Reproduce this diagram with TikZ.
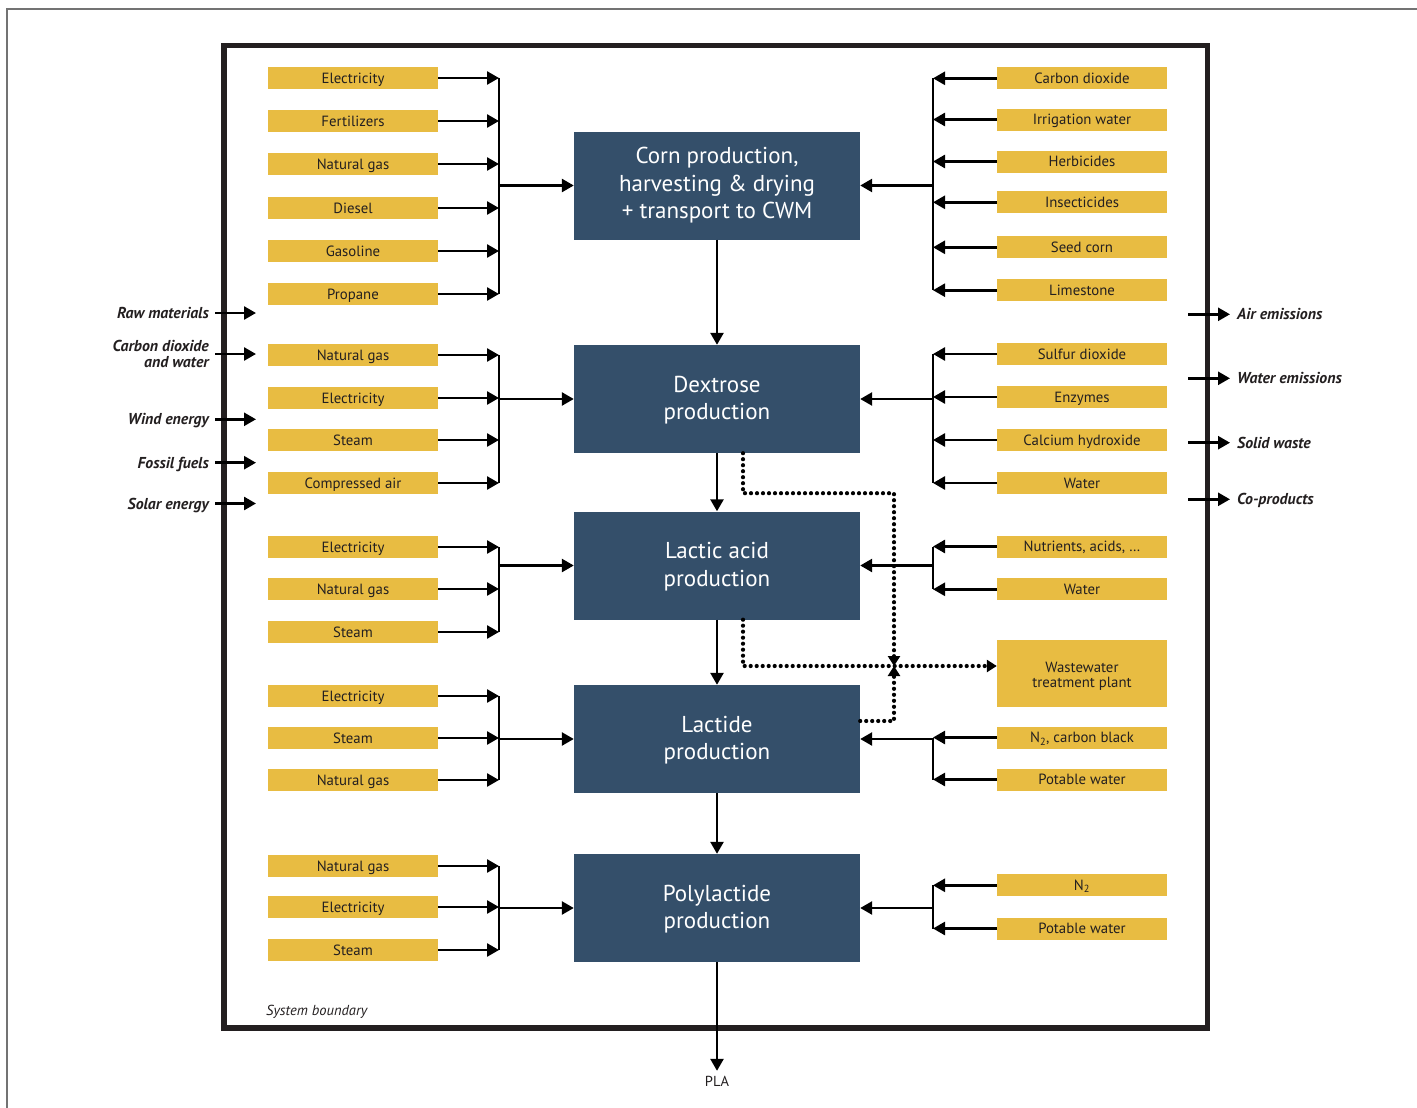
\documentclass[tikz,border=0pt]{standalone}
\usepackage{fontspec}
\setmainfont{PT Sans}
\usetikzlibrary{arrows.meta}
\definecolor{ybox}{RGB}{232,188,66}
\definecolor{pbox}{RGB}{52,79,106}
\definecolor{ink}{RGB}{35,31,32}
\tikzset{
  item/.style={fill=ybox, minimum width=170pt, minimum height=22pt, inner sep=0pt,
    text=ink, text height=10.3pt, text depth=0pt, font=\fontsize{14.8}{15}\selectfont},
  proc/.style={fill=pbox, minimum width=286pt, minimum height=108pt, inner sep=0pt,
    text=white, align=center, font=\fontsize{23}{27.5}\selectfont},
  flow/.style={line width=2.6pt, draw=black, -{Triangle[length=12pt,width=13pt]}},
  brk/.style={line width=1.8pt, draw=black},
  dots/.style={line width=4.2pt, draw=black, dash pattern=on 0pt off 6pt, line cap=round,
    -{Triangle[length=10pt,width=12pt]}},
  ext/.style={font=\fontsize{15.8}{15.5}\selectfont\bfseries\itshape, text=ink, inner sep=0pt},
  ext1/.style={ext, text height=11pt, text depth=0pt},
  frame/.style={line width=1.3pt, draw=black!55},
  boundary/.style={line width=5.5pt, draw=ink}
}
\begin{document}
\begin{tikzpicture}[x=1pt,y=-1pt]
\useasboundingbox (0,0) rectangle (1417,1108);
\draw[frame] (7,1108) -- (7,9) -- (1417,9);
\draw[boundary] (224,45.5) rectangle (1207.5,1028);
\coordinate (bl) at (499,0);
\coordinate (br) at (933,0);
\coordinate (xin) at (256,0);
\coordinate (xout) at (1188,0);
\coordinate (jn) at (894,666);

% process boxes
\node[proc] (corn) at (717,185.5) {Corn production,\\harvesting \& drying\\+ transport to CWM};
\node[proc] (dex) at (717,399) {\rule{0pt}{19pt}Dextrose\\production};
\node[proc] (lac) at (717,565.5) {\rule{0pt}{19pt}Lactic acid\\production};
\node[proc] (lt) at (717,739) {\rule{0pt}{19pt}Lactide\\production};
\node[proc] (pl) at (717,908) {\rule{0pt}{19pt}Polylactide\\production};

% left inputs
\foreach \i/\y/\t in {1/78/Electricity, 2/121/Fertilizers, 3/164/Natural gas, 4/208/Diesel, 5/251/Gasoline, 6/294/Propane}
  {\node[item] (Lc\i) at (353,\y) {\t}; \draw[flow] (Lc\i.east) -- (Lc\i.east -| bl);}
\foreach \i/\y/\t in {1/355/Natural gas, 2/398/Electricity, 3/440/Steam, 4/483/Compressed air}
  {\node[item] (Ld\i) at (353,\y) {\t}; \draw[flow] (Ld\i.east) -- (Ld\i.east -| bl);}
\foreach \i/\y/\t in {1/547/Electricity, 2/589/Natural gas, 3/632/Steam}
  {\node[item] (La\i) at (353,\y) {\t}; \draw[flow] (La\i.east) -- (La\i.east -| bl);}
\foreach \i/\y/\t in {1/696/Electricity, 2/738/Steam, 3/780/Natural gas}
  {\node[item] (Lt\i) at (353,\y) {\t}; \draw[flow] (Lt\i.east) -- (Lt\i.east -| bl);}
\foreach \i/\y/\t in {1/866/Natural gas, 2/907/Electricity, 3/950/Steam}
  {\node[item] (Lp\i) at (353,\y) {\t}; \draw[flow] (Lp\i.east) -- (Lp\i.east -| bl);}

\draw[brk] (Lc1.east -| bl) -- (Lc6.east -| bl);
\draw[brk] (Ld1.east -| bl) -- (Ld4.east -| bl);
\draw[brk] (La1.east -| bl) -- (La3.east -| bl);
\draw[brk] (Lt1.east -| bl) -- (Lt3.east -| bl);
\draw[brk] (Lp1.east -| bl) -- (Lp3.east -| bl);
\draw[flow] (corn.west -| bl) -- (corn.west);
\draw[flow] (dex.west -| bl) -- (dex.west);
\draw[flow] (lac.west -| bl) -- (lac.west);
\draw[flow] (lt.west -| bl) -- (lt.west);
\draw[flow] (pl.west -| bl) -- (pl.west);

% right inputs
\foreach \i/\y/\t in {1/78.3/Carbon dioxide, 2/119.5/Irrigation water, 3/161.5/Herbicides, 4/202.3/Insecticides, 5/247.3/Seed corn, 6/290.2/Limestone}
  {\node[item] (Rc\i) at (1082,\y) {\t}; \draw[flow] (Rc\i.west) -- (Rc\i.west -| br);}
\foreach \i/\y/\t in {1/354/Sulfur dioxide, 2/397/Enzymes, 3/440/Calcium hydroxide, 4/483/Water}
  {\node[item] (Rd\i) at (1082,\y) {\t}; \draw[flow] (Rd\i.west) -- (Rd\i.west -| br);}
\foreach \i/\y/\t in {1/546.5/{Nutrients, acids, …}, 2/589.3/Water}
  {\node[item] (Ra\i) at (1082,\y) {\t}; \draw[flow] (Ra\i.west) -- (Ra\i.west -| br);}
\foreach \i/\y/\t in {1/737.5/{N\textsubscript{2}, carbon black}, 2/779.5/Potable water}
  {\node[item] (Rt\i) at (1082,\y) {\t}; \draw[flow] (Rt\i.west) -- (Rt\i.west -| br);}
\foreach \i/\y/\t in {1/885.3/N\textsubscript{2}, 2/928.5/Potable water}
  {\node[item] (Rp\i) at (1082,\y) {\t}; \draw[flow] (Rp\i.west) -- (Rp\i.west -| br);}

\draw[brk] (Rc1.west -| br) -- (Rc6.west -| br);
\draw[brk] (Rd1.west -| br) -- (Rd4.west -| br);
\draw[brk] (Ra1.west -| br) -- (Ra2.west -| br);
\draw[brk] (Rt1.west -| br) -- (Rt2.west -| br);
\draw[brk] (Rp1.west -| br) -- (Rp2.west -| br);
\draw[flow] (corn.east -| br) -- (corn.east);
\draw[flow] (dex.east -| br) -- (dex.east);
\draw[flow] (lac.east -| br) -- (lac.east);
\draw[flow] (lt.east -| br) -- (lt.east);
\draw[flow] (pl.east -| br) -- (pl.east);

% wastewater
\node[fill=ybox, minimum width=170pt, minimum height=67pt, inner sep=0pt, text=ink, align=center, font=\fontsize{14.8}{15}\selectfont] (ww) at (1082,673.3) {\rule{0pt}{16.5pt}Wastewater\\treatment plant};

% main chain
\node[font=\fontsize{14.5}{16}\selectfont, text=ink, inner sep=0pt, text height=10pt, text depth=0pt] (pla) at (717,1081) {PLA};
\draw[flow] (corn.south) -- (dex.north);
\draw[flow] (dex.south) -- (lac.north);
\draw[flow] (lac.south) -- (lt.north);
\draw[flow] (lt.south) -- (pl.north);
\draw[flow, shorten >=5pt] (pl.south) -- (pla.north);

% dotted wastewater flows
\draw[dots] ([xshift=26pt]dex.south) -- ++(0,40) -| (jn);
\draw[dots] ([xshift=26pt]lac.south) |- (jn -| ww.west);
\draw[dots] ([yshift=18pt]lt.east) -| (jn);

% external labels
\node[ext1, anchor=east] (e1) at (209,313) {Raw materials};
\node[ext, anchor=east, align=right] (e2) at (209,354) {Carbon dioxide\\and water};
\node[ext1, anchor=east] (e3) at (209,419.3) {Wind energy};
\node[ext1, anchor=east] (e4) at (209,462.7) {Fossil fuels};
\node[ext1, anchor=east] (e5) at (209,503.5) {Solar energy};
\foreach \e in {e1,e2,e3,e4,e5} \draw[flow, shorten <=6pt] (\e.east) -- (\e.east -| xin);

\node[ext1, anchor=west] (o1) at (1237,314.3) {Air emissions};
\node[ext1, anchor=west] (o2) at (1237,378.3) {Water emissions};
\node[ext1, anchor=west] (o3) at (1237,442.7) {Solid waste};
\node[ext1, anchor=west] (o4) at (1237,499.3) {Co-products};
\foreach \o in {o1,o2,o3,o4} \draw[flow] (\o.west -| xout) -- ([xshift=-7pt]\o.west);

\node[anchor=west, inner sep=0pt, text=ink, font=\fontsize{14.5}{15}\selectfont\itshape] (sb) at (266,1012) {System boundary};
\end{tikzpicture}
\end{document}
